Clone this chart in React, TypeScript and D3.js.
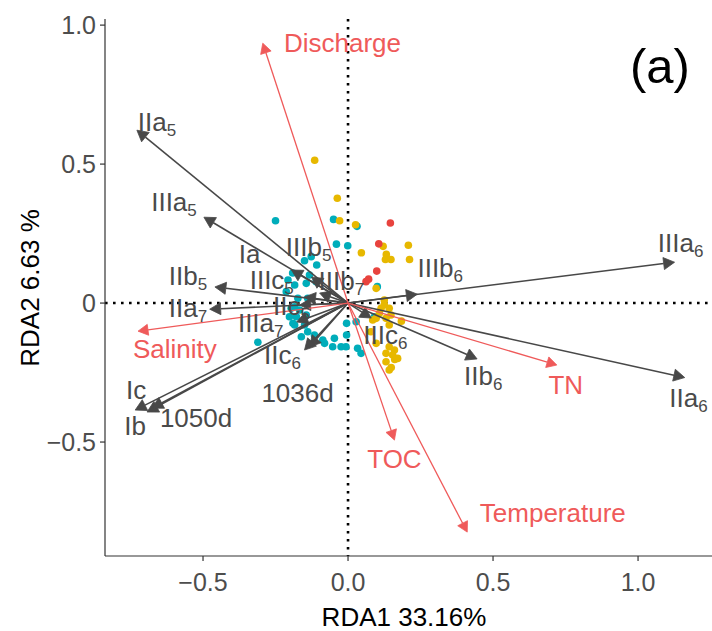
import React from 'react';
import * as d3 from 'd3';

// ── data (RDA1 / RDA2 scores) ──
const cyanPts: [number, number][] = [
  [-0.25, 0.296], [-0.05, 0.301], [0.031, 0.276], [-0.04, 0.212], [-0.001, 0.206],
  [-0.127, 0.167], [-0.15, 0.152], [-0.108, 0.137], [-0.207, 0.083], [-0.184, 0.065],
  [-0.144, 0.071], [-0.11, 0.077], [-0.213, 0.041], [-0.173, 0.017], [-0.139, 0.017],
  [-0.184, -0.013], [-0.196, -0.019], [-0.167, -0.025], [-0.178, -0.049], [-0.144, -0.043],
  [-0.184, -0.079], [-0.15, -0.079], [-0.139, -0.103], [-0.116, -0.115], [-0.087, -0.133],
  [-0.081, -0.145], [-0.047, -0.127], [-0.053, -0.157], [-0.024, -0.157], [-0.007, -0.157],
  [-0.005, -0.115], [-0.005, -0.073], [0.028, -0.067], [0.033, -0.163], [0.045, -0.181],
  [-0.311, -0.141], [0.101, 0.059], [0.091, -0.049], [-0.133, 0.101], [-0.191, 0.108],
  [-0.161, -0.121], [-0.202, -0.049], [-0.19, -0.073],
];
const goldPts: [number, number][] = [
  [-0.115, 0.514], [-0.037, 0.377], [-0.029, 0.296], [0.026, 0.282], [0.121, 0.204],
  [0.208, 0.208], [0.046, 0.181], [0.132, 0.175], [0.129, 0.157], [0.148, 0.157],
  [0.212, 0.157], [0.097, 0.053], [0.125, -0.005], [0.114, -0.019], [0.142, -0.019],
  [0.108, -0.037], [0.148, -0.043], [0.131, -0.055], [0.097, -0.055], [0.085, -0.061],
  [0.142, -0.079], [0.079, -0.103], [0.097, -0.145], [0.142, -0.157], [0.16, -0.169],
  [0.154, -0.187], [0.171, -0.199], [0.131, -0.211], [0.142, -0.241], [0.131, -0.181],
  [0.184, -0.065], [0.125, 0.011], [0.161, -0.203], [0.149, -0.232],
];
const redPts: [number, number][] = [
  [0.146, 0.288], [0.106, 0.213], [0.099, 0.115], [0.071, 0.086], [0.062, 0.077],
];

// species arrows: name, subscript, tip x, tip y, label x, label y
const species: [string, string, number, number, number, number][] = [
  ['IIa', '5', -0.728, 0.622, -0.659, 0.651],
  ['IIIa', '5', -0.497, 0.309, -0.6, 0.363],
  ['Ia', '', -0.195, 0.119, -0.339, 0.176],
  ['IIIb', '5', -0.126, 0.094, -0.136, 0.201],
  ['IIb', '5', -0.459, 0.058, -0.552, 0.097],
  ['IIIc', '5', -0.15, 0.022, -0.263, 0.083],
  ['IIa', '7', -0.477, -0.022, -0.552, -0.018],
  ['IIc', '5', -0.167, -0.007, -0.195, -0.012],
  ['IIIa', '7', -0.177, -0.068, -0.301, -0.072],
  ['IIIb', '7', -0.098, 0.036, -0.023, 0.079],
  ['IIc', '6', -0.133, -0.158, -0.226, -0.187],
  ['1036d', '', -0.15, -0.169, -0.174, -0.324],
  ['Ic', '', -0.734, -0.385, -0.731, -0.313],
  ['Ib', '', -0.693, -0.392, -0.734, -0.442],
  ['1050d', '', -0.676, -0.378, -0.524, -0.414],
  ['IIIc', '6', 0.08, -0.054, 0.129, -0.115],
  ['IIb', '6', 0.445, -0.201, 0.466, -0.263],
  ['IIa', '6', 1.161, -0.268, 1.174, -0.342],
  ['IIIa', '6', 1.126, 0.147, 1.147, 0.216],
  ['IIIb', '6', 0.239, 0.032, 0.318, 0.126],
];

// environmental arrows: name, tip x, tip y, label x, label y
const envVars: [string, number, number, number, number][] = [
  ['Discharge', -0.294, 0.935, -0.019, 0.935],
  ['Salinity', -0.724, -0.101, -0.597, -0.165],
  ['TOC', 0.16, -0.493, 0.16, -0.561],
  ['Temperature', 0.411, -0.824, 0.706, -0.755],
  ['TN', 0.72, -0.223, 0.751, -0.295],
];

const xTicks = [-0.5, 0, 0.5, 1.0];
const xTickLabels = ['\u22120.5', '0.0', '0.5', '1.0'];
const yTicks = [-0.5, 0, 0.5, 1.0];
const yTickLabels = ['\u22120.5', '0', '0.5', '1.0'];

const W = 712;
const H = 631;
const PANEL = { left: 105, top: 19, bottom: 556, right: 712 };
const FONT = '"Liberation Sans", Arial, sans-serif';
const SPECIES_COL = '#484848';
const ENV_COL = '#ef5a5a';

const x = d3.scaleLinear().domain([-0.838, 1.255]).range([PANEL.left, PANEL.right]);
const y = d3.scaleLinear().domain([-0.91, 1.022]).range([PANEL.bottom, PANEL.top]);

function Arrow({ tx, ty, color, width, head }: { tx: number; ty: number; color: string; width: number; head: number }) {
  const x0 = x(0), y0 = y(0), x1 = x(tx), y1 = y(ty);
  const ang = Math.atan2(y1 - y0, x1 - x0);
  const hw = head * 0.55;
  const bx = x1 - head * Math.cos(ang), by = y1 - head * Math.sin(ang);
  const p = [
    [x1, y1],
    [bx + hw * Math.sin(ang), by - hw * Math.cos(ang)],
    [bx - hw * Math.sin(ang), by + hw * Math.cos(ang)],
  ];
  return (
    <g>
      <line x1={x0} y1={y0} x2={bx} y2={by} stroke={color} strokeWidth={width} />
      <polygon points={p.map(q => q.join(',')).join(' ')} fill={color} stroke={color} strokeWidth={0.8} strokeLinejoin="miter" />
    </g>
  );
}

export default function App() {
  return (
    <div>
      <style>{'body{margin:0}'}</style>
      <svg width={W} height={H} style={{ display: 'block', background: '#fff' }} fontFamily={FONT}>
        {/* zero reference lines */}
        <line x1={PANEL.left} x2={PANEL.right} y1={y(0)} y2={y(0)} stroke="#000" strokeWidth={2.6}
          strokeDasharray="2.6,5.4" />
        <line x1={x(0)} x2={x(0)} y1={PANEL.top} y2={PANEL.bottom} stroke="#000" strokeWidth={2.6}
          strokeDasharray="2.6,5.4" />

        {/* site points */}
        {cyanPts.map((d, i) => <circle key={'c' + i} cx={x(d[0])} cy={y(d[1])} r={3.8} fill="#00adba" />)}
        {goldPts.map((d, i) => <circle key={'g' + i} cx={x(d[0])} cy={y(d[1])} r={3.8} fill="#e7b800" />)}
        {redPts.map((d, i) => <circle key={'r' + i} cx={x(d[0])} cy={y(d[1])} r={3.8} fill="#e8433e" />)}

        {/* species arrows */}
        {species.map((s, i) => <Arrow key={'sa' + i} tx={s[2]} ty={s[3]} color={SPECIES_COL} width={1.6} head={11} />)}
        {/* environmental arrows */}
        {envVars.map((e, i) => <Arrow key={'ea' + i} tx={e[1]} ty={e[2]} color={ENV_COL} width={1.3} head={10} />)}

        {/* species labels */}
        {species.map((s, i) => (
          <text key={'sl' + i} x={x(s[4])} y={y(s[5])} textAnchor="middle" dominantBaseline="central"
            fontSize={26} fill="#4a4a4a">
            {s[0]}
            {s[1] && <tspan fontSize={17} dy={8}>{s[1]}</tspan>}
          </text>
        ))}
        {envVars.map((e, i) => (
          <text key={'el' + i} x={x(e[3])} y={y(e[4])} textAnchor="middle" dominantBaseline="central"
            fontSize={26} fill={ENV_COL}>{e[0]}</text>
        ))}

        {/* axes */}
        <line x1={PANEL.left} x2={PANEL.left} y1={PANEL.top} y2={PANEL.bottom} stroke="#333" strokeWidth={1.2} />
        <line x1={PANEL.left} x2={PANEL.right} y1={PANEL.bottom} y2={PANEL.bottom} stroke="#333" strokeWidth={1.2} />
        {xTicks.map((t, i) => (
          <g key={'xt' + i}>
            <line x1={x(t)} x2={x(t)} y1={PANEL.bottom} y2={PANEL.bottom + 5} stroke="#333" strokeWidth={1.2} />
            <text x={x(t)} y={PANEL.bottom + 26} textAnchor="middle" dominantBaseline="central" fontSize={25}
              fill="#4d4d4d">{xTickLabels[i]}</text>
          </g>
        ))}
        {yTicks.map((t, i) => (
          <g key={'yt' + i}>
            <line x1={PANEL.left - 5} x2={PANEL.left} y1={y(t)} y2={y(t)} stroke="#333" strokeWidth={1.2} />
            <text x={PANEL.left - 9} y={y(t)} textAnchor="end" dominantBaseline="central" fontSize={25}
              fill="#4d4d4d">{yTickLabels[i]}</text>
          </g>
        ))}

        {/* titles */}
        <text x={404} y={617} textAnchor="middle" dominantBaseline="central" fontSize={26} fill="#000">RDA1 33.16%</text>
        <text transform={`translate(30,288) rotate(-90)`} textAnchor="middle" dominantBaseline="central"
          fontSize={26} fill="#000">RDA2 6.63 %</text>
        <text x={660} y={66} textAnchor="middle" dominantBaseline="central" fontSize={49} fill="#000">(a)</text>
      </svg>
    </div>
  );
}
